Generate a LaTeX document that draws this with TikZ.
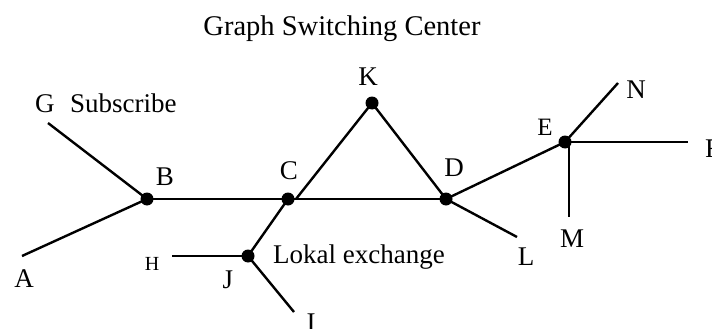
\documentclass[tikz,border=0pt]{standalone}
\usepackage{fontspec}
\setmainfont{Liberation Serif}
\begin{document}
\begin{tikzpicture}[x=1pt,y=-1pt,
  dot/.style={circle,fill=black,inner sep=0pt,minimum size=13pt},
  lbl/.style={inner sep=0pt,anchor=base,font=\fontsize{27}{30}\selectfont},
  edge/.style={line width=2.4pt}]
\useasboundingbox (0,0) rectangle (712,329);
\clip (0,0) rectangle (712,329);
% title
\node[lbl,font=\fontsize{28.5}{32}\selectfont] (title) at (342,36) {Graph Switching Center};
% junction dots
\node[dot] (B) at (147,199) {};
\node[dot] (C) at (288,199) {};
\node[dot] (K) at (372,103) {};
\node[dot] (D) at (446,199) {};
\node[dot] (E) at (565,142) {};
\node[dot] (J) at (248,256) {};
% free ends
\coordinate (G0) at (48,123);
\coordinate (A0) at (22,256);
\coordinate (H0) at (172,256);
\coordinate (I0) at (294,312);
\coordinate (L0) at (517,237);
\coordinate (N0) at (618,83);
\coordinate (F0) at (688,142);
\coordinate (Mtop) at (569,142);
\coordinate (M0) at (569,217);
\coordinate (Cr) at (296,199);
% connectors
\draw[edge] (G0) -- (B.center);
\draw[edge] (A0) -- (B.center);
\draw[edge] (B.center) -- (D.center);
\draw[edge] (C.center) -- (J.center);
\draw[edge] (Cr) -- (K.center);
\draw[edge] (K.center) -- (D.center);
\draw[edge] (D.center) -- (E.center);
\draw[edge] (D.center) -- (L0);
\draw[edge] (E.center) -- (N0);
\draw[edge] (Mtop) -- (F0);
\draw[edge] (Mtop) -- (M0);
\draw[edge] (H0) -- (J.center);
\draw[edge] (J.center) -- (I0);
% labels
\node[lbl,anchor=base west] (lG) at (35,112) {G};
\node[lbl,anchor=base west] (lSub) at (70,112) {Subscribe};
\node[lbl] (lB) at (165,185) {B};
\node[lbl] (lC) at (289,179) {C};
\node[lbl] (lK) at (368,85) {K};
\node[lbl] (lD) at (454,176) {D};
\node[lbl,font=\fontsize{25}{28}\selectfont] (lE) at (545,135) {E};
\node[lbl] (lN) at (636,98) {N};
\node[lbl,anchor=base west] (lF) at (705,157) {F};
\node[lbl] (lM) at (572,247) {M};
\node[lbl] (lL) at (526,265) {L};
\node[lbl] (lA) at (24,287) {A};
\node[lbl,font=\fontsize{20}{22}\selectfont] (lH) at (152,270) {H};
\node[lbl] (lJ) at (228,288) {J};
\node[lbl,anchor=base west] (lLok) at (273,263) {Lokal exchange};
\node[lbl] (lI) at (311,331) {I};
\end{tikzpicture}
\end{document}
